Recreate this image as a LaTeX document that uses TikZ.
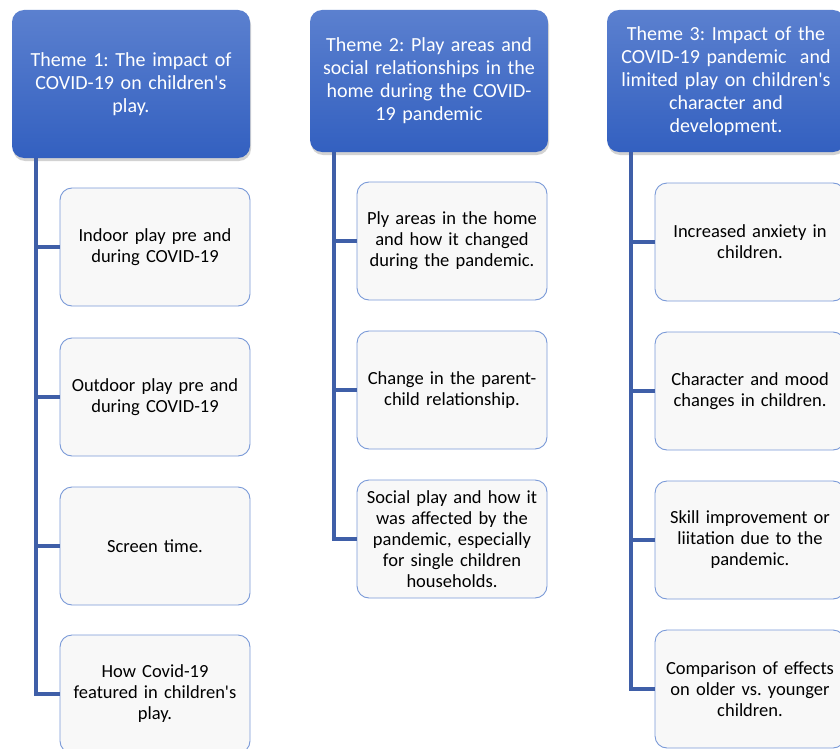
\documentclass[tikz,border=0pt]{standalone}
\usepackage{fontspec}
\setmainfont{Carlito}[Ligatures=TeXOff]
\usetikzlibrary{shadows}

\definecolor{themetop}{HTML}{5B80CF}
\definecolor{themebot}{HTML}{3360C0}
\definecolor{itemline}{HTML}{7A9AD8}
\definecolor{itemfill}{HTML}{F8F8F8}
\definecolor{linkcol}{HTML}{3F5FA8}

\begin{document}
\frenchspacing
\begin{tikzpicture}[x=1pt,y=-1pt,
        theme/.style={draw=none,rounded corners=12pt,top color=themetop,bottom color=themebot,
          text=white,align=center,text width=222pt,minimum width=238pt,minimum height=146pt,
          font=\fontsize{20}{23}\selectfont,drop shadow={opacity=0.35,shadow xshift=1pt,shadow yshift=-3pt}},
        item/.style={draw=itemline,fill=itemfill,rounded corners=12pt,line width=0.9pt,align=center,
          text width=176pt,minimum width=190pt,minimum height=118pt,font=\fontsize{18.5}{21}\selectfont},
        link/.style={draw=linkcol,line width=3.2pt}]
        \useasboundingbox (0,0) rectangle (840,749);
        \fill[white] (0,0) rectangle (840,749);

        % themes
        \node[theme, minimum height=148pt] (T1) at (131, 84) {Theme 1: The impact of\\COVID-19 on children's\\play.};
        \node[theme, minimum height=142pt] (T2) at (429, 81) {Theme 2: Play areas and\\social relationships in the\\home during the COVID-\\19 pandemic};
        \node[theme, minimum height=142pt] (T3) at (726, 81) {Theme 3: Impact of the\\COVID-19 pandemic\ \ and\\limited play on children's\\character and\\development.};

        % theme 1 items
        \node[item] (A1) at (155, 247) {Indoor play pre and\\during COVID-19};
        \node[item] (A2) at (155, 397) {Outdoor play pre and\\during COVID-19};
        \node[item] (A3) at (155, 546) {Screen time.};
        \node[item] (A4) at (155, 694) {How Covid-19\\featured in children's\\play.};

        % theme 2 items
        \node[item] (B1) at (452, 241) {Ply areas in the home\\and how it changed\\during the pandemic.};
        \node[item] (B2) at (452, 390) {Change in the parent-\\child relationship.};
        \node[item] (B3) at (452, 539) {Social play and how it\\was affected by the\\pandemic, especially\\for single children\\households.};

        % theme 3 items
        \node[item] (C1) at (750, 242) {Increased anxiety in\\children.};
        \node[item] (C2) at (750, 391) {Character and mood\\changes in children.};
        \node[item] (C3) at (750, 540) {Skill improvement or\\liitation due to the\\pandemic.};
        \node[item] (C4) at (750, 689) {Comparison of effects\\on older vs. younger\\children.};

        % links
        \foreach \t/\x/\last in {T1/36/A4, T2/334/B3, T3/631/C4}
          \draw[link] (\t.south -| \x,0) |- (\last.west);
        \foreach \x/\c in {36/A1, 36/A2, 36/A3, 334/B1, 334/B2, 631/C1, 631/C2, 631/C3}
          \draw[link] (\c.west -| \x,0) -- (\c.west);

      \end{tikzpicture}
\end{document}
